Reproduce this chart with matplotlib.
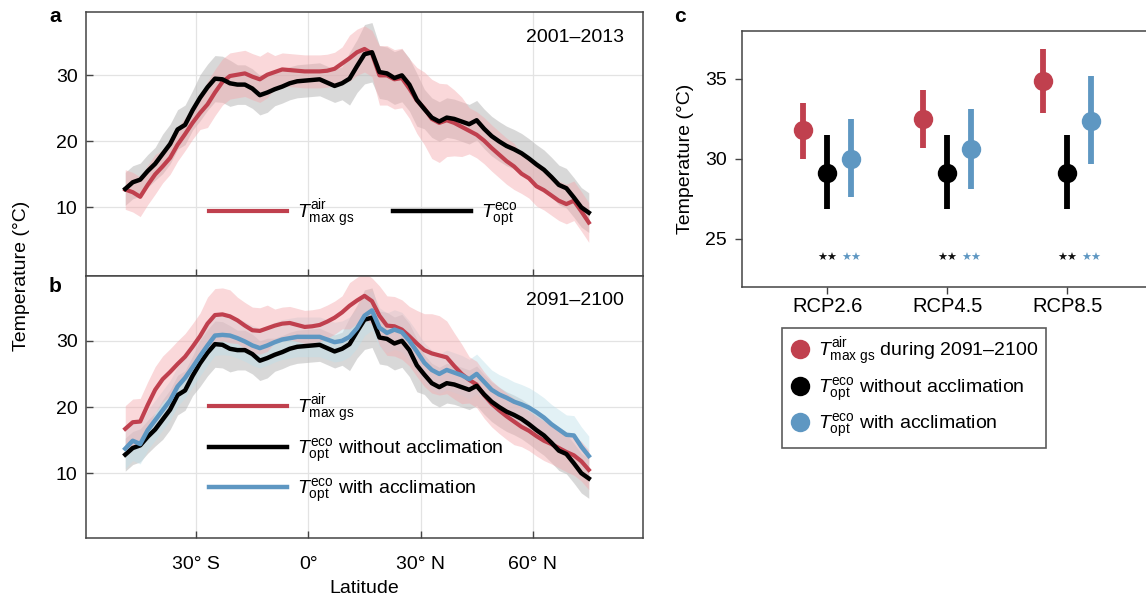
import numpy as np
import matplotlib
matplotlib.use("Agg")
import matplotlib.pyplot as plt
from matplotlib.lines import Line2D

plt.rcParams['font.family'] = ['Liberation Sans', 'DejaVu Sans']
plt.rcParams['mathtext.fontset'] = 'custom'
plt.rcParams['mathtext.rm'] = 'Liberation Sans'
plt.rcParams['mathtext.it'] = 'Liberation Sans:italic'
plt.rcParams['mathtext.bf'] = 'Liberation Sans:bold'

# ---------------- data ----------------
lat = [-49, -47, -45, -43, -41, -39, -37, -35, -33, -31, -29, -27, -25, -23, -21,
       -19, -17, -15, -13, -11, -9, -7, -5, -3, -1, 1, 3, 5, 7, 9, 11, 13, 15, 17,
       19, 21, 23, 25, 27, 29, 31, 33, 35, 37, 39, 41, 43, 45, 47, 49, 51, 53, 55,
       57, 59, 61, 63, 65, 67, 69, 71, 73, 75]

# T_opt^eco (same in both periods, without acclimation)
topt = [12.8, 13.8, 14.2, 15.5, 16.6, 18.1, 19.6, 21.8, 22.5, 24.7, 26.6, 28.2, 29.5, 29.4, 28.8,
        28.6, 28.6, 28.0, 27.0, 27.4, 27.9, 28.3, 28.8, 29.1, 29.2, 29.3, 29.4, 28.9, 28.4, 28.8,
        29.5, 31.4, 33.2, 33.5, 30.5, 30.3, 29.6, 30.0, 28.6, 26.3, 24.9, 23.6, 23.0, 23.6, 23.4,
        23.0, 22.6, 23.2, 21.9, 20.8, 20.0, 19.3, 18.8, 18.2, 17.4, 16.5, 15.7, 14.6, 13.4, 12.9,
        11.5, 10.0, 9.2]
topt_err = [2.5, 2.5, 2.5, 2.5, 2.5, 3.0, 3.0, 3.0, 3.0, 3.0, 3.5, 3.5, 3.5, 3.5, 3.5,
            3.0, 3.0, 3.0, 3.0, 3.0, 2.5, 2.5, 2.5, 2.5, 2.5, 2.5, 2.5, 2.5, 2.5, 2.5,
            4.0, 4.0, 4.5, 4.5, 4.0, 4.0, 4.0, 4.0, 4.0, 4.0, 3.0, 3.0, 3.0, 3.0, 3.0,
            3.0, 3.0, 3.0, 3.0, 3.0, 3.0, 3.0, 3.0, 3.0, 3.0, 3.0, 3.0, 3.0, 3.0, 3.0,
            3.0, 3.0, 3.0]

# T_air max gs, 2001-2013
tair_now = [12.7, 12.3, 11.6, 13.4, 15.0, 16.2, 17.5, 19.5, 21.1, 22.8, 24.3, 25.6, 27.4, 29.0, 29.9,
            30.1, 30.3, 29.8, 29.4, 30.1, 30.5, 30.9, 30.8, 30.7, 30.6, 30.6, 30.6, 30.7, 31.0, 31.8,
            32.6, 33.5, 34.0, 33.3, 30.0, 30.0, 29.4, 29.6, 28.0, 26.2, 25.0, 23.4, 22.8, 23.2, 22.8,
            22.2, 21.6, 21.0, 20.1, 19.0, 18.0, 17.0, 16.2, 15.1, 14.4, 13.2, 12.6, 11.8, 11.0, 10.5,
            11.0, 9.4, 7.7]
tair_now_err = [3.0, 3.0, 3.0, 3.0, 3.0, 2.5, 2.5, 2.5, 2.5, 2.5, 2.5, 3.5, 3.5, 3.5, 3.5,
                3.5, 3.5, 3.5, 3.5, 3.5, 2.5, 2.5, 2.5, 2.5, 2.5, 2.5, 2.5, 2.5, 2.5, 2.5,
                3.5, 3.5, 3.5, 3.5, 4.5, 4.5, 4.5, 4.5, 4.5, 5.0, 5.5, 6.0, 6.0, 5.5, 5.0,
                4.5, 3.5, 3.5, 3.5, 3.5, 3.5, 3.5, 3.5, 3.0, 3.0, 3.0, 3.0, 3.0, 3.0, 3.0,
                3.0, 3.0, 3.0]

# T_air max gs, 2091-2100
tair_fut = [16.7, 17.7, 17.8, 20.3, 22.6, 24.2, 25.3, 26.5, 27.6, 29.1, 30.7, 32.6, 33.9, 34.0, 33.7,
            33.1, 32.3, 31.6, 31.5, 31.9, 32.3, 32.6, 32.7, 32.4, 32.1, 32.2, 32.4, 32.9, 33.5, 34.3,
            35.3, 36.1, 36.8, 36.0, 33.8, 32.3, 32.2, 31.7, 30.7, 29.6, 28.6, 28.1, 27.8, 27.5, 26.2,
            25.0, 24.1, 23.4, 21.8, 20.5, 19.5, 18.6, 17.8, 17.0, 16.4, 15.6, 14.9, 14.4, 13.8, 13.2,
            12.7, 11.8, 10.5]
tair_fut_err = [3.5, 3.5, 3.5, 3.5, 3.5, 3.5, 3.5, 3.5, 3.5, 3.5, 3.5, 4.0, 4.0, 4.0, 4.0,
                3.5, 3.5, 3.5, 3.5, 3.5, 2.5, 2.5, 2.5, 2.5, 2.5, 2.5, 2.5, 2.5, 2.5, 2.5,
                3.5, 3.5, 3.5, 3.5, 4.5, 4.5, 4.5, 4.5, 4.5, 5.0, 5.5, 6.0, 6.0, 5.5, 5.0,
                4.5, 3.5, 3.5, 3.5, 3.5, 3.5, 3.5, 3.5, 3.0, 3.0, 3.0, 3.0, 3.0, 3.0, 3.0,
                3.0, 3.0, 3.0]

# T_opt^eco with acclimation, 2091-2100
topt_acc = [13.7, 14.9, 14.4, 16.5, 18.0, 19.5, 21.0, 23.1, 24.4, 26.0, 27.7, 29.3, 30.8, 30.9, 30.8,
            30.4, 29.9, 29.3, 28.9, 29.3, 29.8, 30.2, 30.4, 30.6, 30.6, 30.6, 30.6, 30.2, 29.8, 30.0,
            30.6, 31.9, 33.8, 34.6, 32.0, 31.2, 31.7, 31.3, 30.0, 28.4, 26.7, 25.6, 25.0, 25.6, 25.2,
            24.8, 24.2, 25.0, 23.8, 22.6, 21.9, 21.4, 20.8, 20.4, 19.9, 19.2, 18.4, 17.4, 16.6, 15.8,
            15.7, 14.0, 12.6]
topt_acc_err = [3.0] * len(lat)

lat_ticks = [-30, 0, 30, 60]
lat_ticklabels = ['30° S', '0°', '30° N', '60° N']

# panel c
scenarios = ['RCP2.6', 'RCP4.5', 'RCP8.5']
c_air = [31.8, 32.5, 34.9]
c_air_lo = [30.0, 30.7, 32.9]
c_air_hi = [33.5, 34.3, 36.9]
c_noacc = [29.1, 29.1, 29.1]
c_noacc_lo = [26.9, 26.9, 26.9]
c_noacc_hi = [31.5, 31.5, 31.5]
c_acc = [30.0, 30.6, 32.4]
c_acc_lo = [27.6, 28.1, 29.7]
c_acc_hi = [32.5, 33.1, 35.2]

# ---------------- style ----------------
RED = '#c0404e'
BLUE = '#5e97c2'
BLACK = '#000000'
PINK_F = '#f4a9ad'
GREY_F = '#b9b9b9'
LBLUE_F = '#bfe0ea'
SPINE = '#444444'
FS = 14

lab_air = r'$T^{\rm air}_{\rm max\ gs}$'
lab_opt = r'$T^{\rm eco}_{\rm opt}$'

W, H = 1146, 596
fig = plt.figure(figsize=(W / 100, H / 100), dpi=100)


def ax_px(l, t, r, b):
    return fig.add_axes([l / W, 1 - b / H, (r - l) / W, (b - t) / H])


axa = ax_px(86, 12, 643, 276)
axb = ax_px(86, 276, 643, 538)
axc = ax_px(742, 31, 1150, 287)

lat_a = np.array(lat)


def band(ax, y, e, color, alpha):
    y = np.array(y)
    e = np.array(e)
    ax.fill_between(lat_a, y - e, y + e, color=color, alpha=alpha, lw=0)


for ax in (axa, axb):
    ax.set_xlim(-59.5, 89.5)
    ax.set_xticks(lat_ticks)
    ax.set_yticks([10, 20, 30])
    ax.grid(True, color='#e3e3e3', lw=0.9)
    ax.set_axisbelow(True)
    ax.tick_params(direction='in', length=5, width=1, color=SPINE, labelsize=FS,
                   pad=6)
    for s in ax.spines.values():
        s.set_color(SPINE)
        s.set_linewidth(1.1)

axa.set_ylim(-0.4, 39.6)
axb.set_ylim(0.2, 39.8)
axa.tick_params(labelbottom=False)
axb.set_xticklabels(lat_ticklabels)
axb.tick_params(axis='x', pad=13)

# panel a
band(axa, topt, topt_err, GREY_F, 0.55)
band(axa, tair_now, tair_now_err, PINK_F, 0.45)
axa.plot(lat, tair_now, color=RED, lw=3.0, label=lab_air, solid_joinstyle='round')
axa.plot(lat, topt, color=BLACK, lw=3.2, label=lab_opt, solid_joinstyle='round')
axa.text(0.965, 0.905, '2001–2013', transform=axa.transAxes, ha='right', va='center',
         fontsize=FS)
axa.legend(loc='center left', bbox_to_anchor=(0.19, 0.235), ncol=2, frameon=False,
           handlelength=4.0, columnspacing=2.0, handletextpad=0.5, fontsize=FS)

# panel b
band(axb, topt, topt_err, GREY_F, 0.55)
band(axb, topt_acc, topt_acc_err, LBLUE_F, 0.45)
band(axb, tair_fut, tair_fut_err, PINK_F, 0.45)
axb.plot(lat, tair_fut, color=RED, lw=3.0, label=lab_air, solid_joinstyle='round')
axb.plot(lat, topt, color=BLACK, lw=3.2, label=lab_opt + ' without acclimation',
         solid_joinstyle='round')
axb.plot(lat, topt_acc, color=BLUE, lw=3.2, label=lab_opt + ' with acclimation',
         solid_joinstyle='round')
axb.text(0.965, 0.905, '2091–2100', transform=axb.transAxes, ha='right', va='center',
         fontsize=FS)
axb.legend(loc='center left', bbox_to_anchor=(0.19, 0.34), ncol=1, frameon=False,
           handlelength=4.0, handletextpad=0.5, labelspacing=0.6, fontsize=FS)
axb.set_xlabel('Latitude', fontsize=FS, labelpad=5)

fig.text(22 / W, 1 - 276 / H, 'Temperature (°C)', rotation=90, ha='center', va='center',
         fontsize=FS)

# panel c
xpos = np.arange(len(scenarios))
off = 0.2
for vals, lo, hi, col, dx in [(c_air, c_air_lo, c_air_hi, RED, -off),
                              (c_noacc, c_noacc_lo, c_noacc_hi, BLACK, 0.0),
                              (c_acc, c_acc_lo, c_acc_hi, BLUE, off)]:
    v = np.array(vals)
    yerr = [v - np.array(lo), np.array(hi) - v]
    axc.errorbar(xpos + dx, v, yerr=yerr, fmt='o', color=col, ms=14, elinewidth=4.2,
                 capsize=0, mew=0)
for i in xpos:
    axc.text(i, 23.8, '★★', color='#111111', ha='center', va='center', fontsize=8,
             family='DejaVu Sans')
    axc.text(i + off, 23.8, '★★', color=BLUE, ha='center', va='center', fontsize=8,
             family='DejaVu Sans')

axc.set_xlim(-0.71, 2.69)
axc.set_ylim(22, 38)
axc.set_yticks([25, 30, 35])
axc.set_xticks(xpos)
axc.set_xticklabels(scenarios)
axc.tick_params(direction='out', length=5, width=1, color=SPINE, labelsize=FS, pad=6)
axc.tick_params(axis='x', labelsize=14.5, pad=2)
for s in axc.spines.values():
    s.set_color(SPINE)
    s.set_linewidth(1.1)
axc.set_ylabel('Temperature (°C)', fontsize=FS, labelpad=8)

handles = [Line2D([], [], ls='none', marker='o', ms=14, color=c, mew=0) for c in (RED, BLACK, BLUE)]
labels = [lab_air + ' during 2091–2100', lab_opt + ' without acclimation',
          lab_opt + ' with acclimation']
leg = fig.legend(handles, labels, loc='upper left', bbox_to_anchor=(782 / W, 1 - 328 / H),
                 frameon=True, fancybox=False, edgecolor='#333333', fontsize=FS,
                 handlelength=1.0, handletextpad=0.45, labelspacing=0.4, borderpad=0.4,
                 borderaxespad=0.0)
leg.get_frame().set_linewidth(1.2)

# panel letters
for x, y, s in [(55, 17, 'a'), (55, 287, 'b'), (680, 17, 'c')]:
    fig.text(x / W, 1 - y / H, s, fontsize=15, fontweight='bold', ha='center', va='center')

fig.savefig('out.png', dpi=100)
